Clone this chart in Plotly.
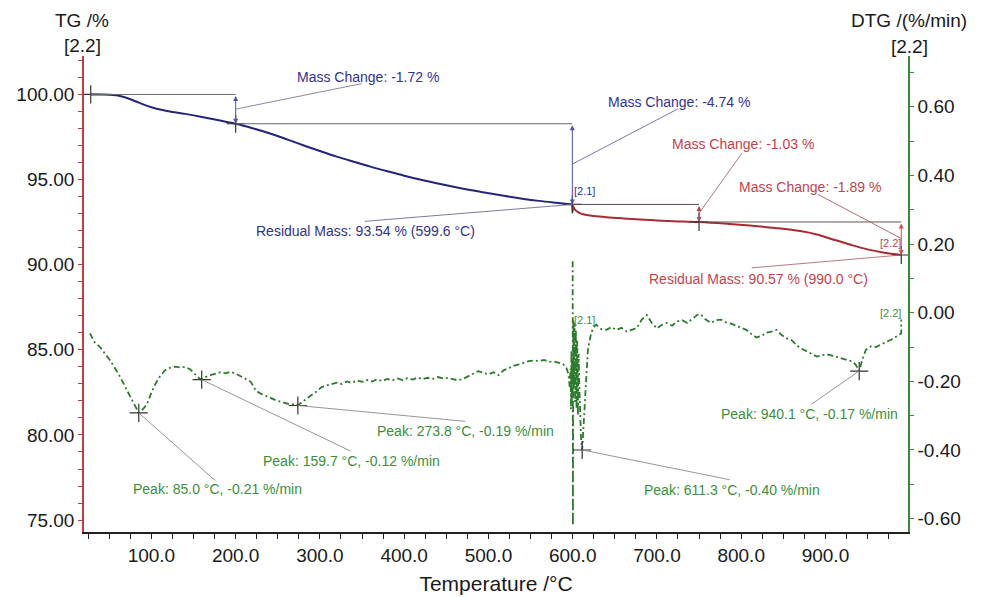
import plotly.graph_objects as go

# ---------------- data ----------------
# TG, segment 2.1 (heating up to 600 °C)
tg1_T = [28, 40, 55, 65, 75, 85, 95, 105, 120, 140, 160, 180, 200, 220, 240, 260, 280,
         300, 320, 340, 360, 380, 400, 420, 440, 460, 480, 500, 520, 540, 560, 580, 599.6]
tg1_val = [100.00, 100.00, 99.97, 99.88, 99.72, 99.52, 99.33, 99.18, 99.02, 98.86, 98.68,
           98.48, 98.28, 98.02, 97.72, 97.38, 97.02, 96.68, 96.35, 96.05, 95.76, 95.49,
           95.23, 94.99, 94.77, 94.56, 94.37, 94.20, 94.03, 93.88, 93.75, 93.64, 93.54]

# TG, segment 2.2 (600 -> 990 °C)
tg2_T = [599.6, 600.0, 600.4, 601.5, 603, 606, 610, 615, 625, 640, 660, 680, 700, 720, 750,
         780, 810, 840, 870, 890, 910, 930, 950, 970, 990]
tg2_val = [93.54, 93.10, 93.45, 93.33, 93.22, 93.10, 93.00, 92.93, 92.86, 92.79, 92.72,
           92.66, 92.60, 92.56, 92.51, 92.42, 92.30, 92.16, 91.98, 91.78, 91.47, 91.17,
           90.90, 90.70, 90.57]

# DTG, segment 2.1 (own scaling)
dtg1_T = [27, 33, 39, 45, 51, 57, 63, 69, 75, 80, 85, 90, 95, 100, 105, 110, 116, 122, 128,
          134, 140, 146, 152, 157, 159.7, 164, 170, 176, 182, 188, 194, 200, 206, 212, 218,
          224, 230, 236, 242, 248, 254, 260, 266, 270, 273.8, 278, 284, 290, 296, 302, 308,
          314, 320, 326, 332, 338, 344, 350, 356, 362, 368, 374, 380, 386, 392, 398, 404,
          410, 416, 422, 428, 434, 440, 446, 452, 458, 464, 470, 476, 482, 488, 494, 500,
          506, 512, 518, 524, 530, 536, 542, 548, 554, 560, 566, 572, 578, 584, 588, 592,
          595, 596.5, 597.5, 598, 598.5, 599, 599.4, 599.8, 600.0]
dtg1_val = [0.005, -0.02, -0.032, -0.05, -0.068, -0.09, -0.113, -0.14, -0.168, -0.19, -0.21,
            -0.20, -0.185, -0.155, -0.13, -0.112, -0.095, -0.088, -0.085, -0.087, -0.086,
            -0.092, -0.105, -0.117, -0.12, -0.113, -0.108, -0.104, -0.10, -0.103, -0.099,
            -0.104, -0.11, -0.118, -0.126, -0.15, -0.158, -0.165, -0.17, -0.176, -0.18,
            -0.184, -0.188, -0.186, -0.19, -0.182, -0.172, -0.163, -0.152, -0.14, -0.136,
            -0.133, -0.128, -0.132, -0.125, -0.129, -0.122, -0.126, -0.121, -0.125, -0.119,
            -0.124, -0.118, -0.122, -0.117, -0.121, -0.116, -0.12, -0.114, -0.119, -0.115,
            -0.118, -0.113, -0.117, -0.115, -0.119, -0.122, -0.118, -0.11, -0.104, -0.097,
            -0.102, -0.106, -0.10, -0.108, -0.095, -0.088, -0.083, -0.079, -0.074, -0.07,
            -0.068, -0.07, -0.067, -0.072, -0.071, -0.074, -0.077, -0.085, -0.105, -0.14,
            -0.09, -0.20, -0.04, -0.18, -0.06, -0.16, -0.10]

# DTG, segment 2.2 (right axis)
dtg2_T = [600.0, 600.3, 600.8, 601.5, 602.2, 603, 603.8, 604.6, 605.4, 606.2, 607, 608, 609,
          610, 611.3, 612.5, 614, 616, 618, 621, 624, 628, 634, 640, 646, 652, 658, 664,
          670, 676, 682, 688, 694, 700, 706, 712, 718, 724, 730, 736, 742, 748, 752, 758,
          764, 770, 776, 782, 788, 794, 800, 806, 812, 818, 824, 830, 836, 842, 848, 854,
          860, 866, 872, 878, 884, 890, 896, 902, 908, 914, 920, 926, 932, 936, 940.1, 944,
          948, 954, 960, 966, 972, 978, 984, 988, 990, 990]
dtg2_val = [0.15, -0.62, -0.02, -0.22, -0.03, -0.26, -0.05, -0.28, -0.08, -0.30, -0.12,
            -0.22, -0.31, -0.37, -0.40, -0.35, -0.26, -0.17, -0.11, -0.07, -0.045, -0.035,
            -0.048, -0.05, -0.042, -0.05, -0.044, -0.055, -0.05, -0.045, -0.02, -0.007,
            -0.03, -0.046, -0.035, -0.03, -0.038, -0.025, -0.022, -0.03, -0.018, -0.006,
            -0.005, -0.02, -0.03, -0.022, -0.02, -0.028, -0.032, -0.038, -0.045, -0.05,
            -0.062, -0.072, -0.068, -0.058, -0.055, -0.05, -0.065, -0.075, -0.08, -0.095,
            -0.105, -0.112, -0.12, -0.128, -0.124, -0.121, -0.125, -0.13, -0.133, -0.138,
            -0.142, -0.152, -0.17, -0.135, -0.108, -0.098, -0.10, -0.092, -0.085, -0.079,
            -0.07, -0.062, -0.06, -0.02]

# mass-change evaluation
step_T = [28.0, 200.0, 599.6, 750.0, 990.0]
step_TG = [100.00, 98.28, 93.54, 92.51, 90.57]
mass_change = [-1.72, -4.74, -1.03, -1.89]
residual_T = [599.6, 990.0]
residual_TG = [93.54, 90.57]

# DTG peaks
peak_T = [85.0, 159.7, 273.8, 611.3, 940.1]
peak_DTG = [-0.21, -0.12, -0.19, -0.40, -0.17]
peak_axis = ["y3", "y3", "y3", "y2", "y2"]

# ticks
x_ticks = [100, 200, 300, 400, 500, 600, 700, 800, 900]
tg_ticks = [75, 80, 85, 90, 95, 100]
dtg_ticks = [-0.6, -0.4, -0.2, 0.0, 0.2, 0.4, 0.6]
dtg_ticktext = ["-0.60", "-0.40", "-0.20", "0.00", "0.20", "0.40", "0.60"]

# ---------------- styling ----------------
FONT = "Arial, Liberation Sans, sans-serif"
BLUE = "#24247c"
BLUE_TXT = "#32328f"
RED = "#a82a32"
RED_TXT = "#c2434c"
GREEN = "#2c7a2c"
GREEN_TXT = "#3b8f3b"
AX_RED = "#c43c3c"
AX_GREEN = "#3a8a3a"
INK = "#1a1a1a"
DASHDOT = "6px,3px,2px,3px"

fig = go.Figure()

fig.add_trace(go.Scatter(x=tg1_T, y=tg1_val, mode="lines", yaxis="y",
                         line=dict(color=BLUE, width=2, shape="spline"), hoverinfo="skip"))
fig.add_trace(go.Scatter(x=tg2_T, y=tg2_val, mode="lines", yaxis="y",
                         line=dict(color=RED, width=2, shape="spline"), hoverinfo="skip"))
fig.add_trace(go.Scatter(x=dtg1_T, y=dtg1_val, mode="lines", yaxis="y3",
                         line=dict(color=GREEN, width=1.8, dash=DASHDOT), hoverinfo="skip"))
fig.add_trace(go.Scatter(x=dtg2_T, y=dtg2_val, mode="lines", yaxis="y2",
                         line=dict(color=GREEN, width=1.8, dash=DASHDOT), hoverinfo="skip"))

# step markers on TG
fig.add_trace(go.Scatter(x=step_T, y=step_TG, mode="markers", yaxis="y",
                         marker=dict(symbol="cross-thin", size=13,
                                     line=dict(color="#333333", width=1.2)),
                         hoverinfo="skip"))
# peak markers on DTG
for ax_name in ("y3", "y2"):
    px = [t for t, a in zip(peak_T, peak_axis) if a == ax_name]
    py = [v for v, a in zip(peak_DTG, peak_axis) if a == ax_name]
    fig.add_trace(go.Scatter(x=px, y=py, mode="markers", yaxis=ax_name,
                             marker=dict(symbol="cross-thin", size=13,
                                         line=dict(color="#333333", width=1.2)),
                             hoverinfo="skip"))

annotations = []
shapes = []


def label(x, y, yref, text, color, text_off, lead_off, lead_color, size=14):
    # leader line from the text to the evaluated point
    annotations.append(dict(x=x, y=y, xref="x", yref=yref, text="", showarrow=True,
                            arrowhead=0, arrowwidth=0.9, arrowcolor=lead_color,
                            ax=lead_off[0], ay=lead_off[1]))
    annotations.append(dict(x=x, y=y, xref="x", yref=yref, text=text, showarrow=False,
                            xshift=text_off[0], yshift=-text_off[1],
                            xanchor="center", yanchor="middle",
                            font=dict(family=FONT, size=size, color=color)))


# mass change brackets
mc_text_off = [(132.5, -32.4), (107, -62.4), (44, -69), (-91, -52)]
mc_lead_off = [(127.5, -25.8), (107, -56), (44, -61.5), (-85, -45)]
mc_colors = [BLUE_TXT, BLUE_TXT, RED_TXT, RED_TXT]
arrow_colors = ["#5050a8", "#5050a8", "#b04a52", "#d0505a"]
lead_colors = ["#7a7a9a", "#6a6a9a", "#a06a70", "#b05a62"]
bracket_colors = ["#6a6a6a", "#6a6a6a", "#5a4a4a", "#6a5050"]
for i, mc in enumerate(mass_change):
    t0, t1 = step_T[i], step_T[i + 1]
    g0, g1 = step_TG[i], step_TG[i + 1]
    shapes.append(dict(type="line", xref="x", yref="y", x0=t0, x1=t1, y0=g0, y1=g0,
                       line=dict(color=bracket_colors[i], width=1)))
    annotations.append(dict(x=t1, y=g1, xref="x", yref="y", ax=t1, ay=g0,
                            axref="x", ayref="y", text="", showarrow=True,
                            arrowhead=2, arrowside="end+start", arrowsize=1,
                            arrowwidth=1, arrowcolor=arrow_colors[i]))
    label(t1, (g0 + g1) / 2, "y", f"Mass Change: {mc:.2f} %", mc_colors[i],
          mc_text_off[i], mc_lead_off[i], lead_colors[i])

# residual masses
res_text_off = [(-207, 27), (-143, 24)]
res_lead_off = [(-209, 17), (-151, 13)]
res_colors = [BLUE_TXT, RED_TXT]
res_leads = ["#6a6a9a", "#b06a72"]
for i in range(2):
    label(residual_T[i], residual_TG[i], "y",
          f"Residual Mass: {residual_TG[i]:.2f} % ({residual_T[i]:.1f} °C)",
          res_colors[i], res_text_off[i], res_lead_off[i], res_leads[i])

# DTG peaks
peak_text_off = [(78.6, 76.3), (150, 81.3), (168, 25.4), (149.4, 40), (-50, 43.3)]
peak_lead_off = [(78, 69), (150, 72), (169, 16), (149, 30), (-49, 34)]
for i in range(len(peak_T)):
    label(peak_T[i], peak_DTG[i], peak_axis[i],
          f"Peak: {peak_T[i]:.1f} °C, {peak_DTG[i]:.2f} %/min",
          GREEN_TXT, peak_text_off[i], peak_lead_off[i], "#8a8a8a")

# segment tags
tags = [
    (residual_T[0], residual_TG[0], "y", "[2.1]", BLUE_TXT, 12, 13),
    (residual_T[1], residual_TG[1], "y", "[2.2]", RED_TXT, -11, 12),
    (dtg2_T[-1], dtg2_val[-1], "y2", "[2.2]", GREEN_TXT, -11, 7),
    (dtg2_T[0], dtg2_val[-1], "y2", "[2.1]", GREEN_TXT, 12, 0),
]
for x, y, yr, txt, col, dx, dy in tags:
    annotations.append(dict(x=x, y=y, xref="x", yref=yr, text=txt, showarrow=False,
                            xshift=dx, yshift=dy, xanchor="center", yanchor="middle",
                            font=dict(family=FONT, size=11, color=col)))

# axis headers
for txt, xp, ys in [("TG /%", 0, 35.3), ("[2.2]", 0, 11), ("DTG /(%/min)", 1, 36),
                    ("[2.2]", 1, 9.5)]:
    annotations.append(dict(x=xp, y=1, xref="paper", yref="paper", text=txt,
                            showarrow=False, xanchor="center", yanchor="middle",
                            xshift=-2 if xp == 0 else 1, yshift=ys,
                            font=dict(family=FONT, size=19, color=INK)))

fig.update_layout(
    width=981, height=597,
    margin=dict(l=84, r=73, t=56, b=65, autoexpand=False),
    paper_bgcolor="white", plot_bgcolor="white",
    showlegend=False,
    font=dict(family=FONT, color=INK),
    shapes=shapes,
    annotations=annotations,
    xaxis=dict(range=[20, 998], tickmode="array", tickvals=x_ticks,
               ticktext=[f"{v:.1f}" for v in x_ticks],
               showline=True, linecolor="#222222", linewidth=1.5,
               ticks="outside", ticklen=5, tickcolor="#222222", tickwidth=1.2,
               minor=dict(dtick=25, tick0=0, ticks="outside", ticklen=5,
                          tickcolor="#222222", tickwidth=1.2),
               showgrid=False, zeroline=False, automargin=False,
               tickfont=dict(size=19, color=INK),
               title=dict(text="Temperature /°C", font=dict(size=21, color=INK),
                          standoff=12)),
    yaxis=dict(range=[74.3, 102.26], tickmode="array", tickvals=tg_ticks,
               ticktext=[f"{v:.2f}" for v in tg_ticks],
               showline=True, linecolor=AX_RED, linewidth=1.5,
               ticks="outside", ticklen=4, tickcolor=AX_RED, tickwidth=1.2,
               minor=dict(dtick=1, tick0=0, ticks="outside", ticklen=4,
                          tickcolor=AX_RED, tickwidth=1.2),
               showgrid=False, zeroline=False, automargin=False,
               tickfont=dict(size=19, color=INK)),
    yaxis2=dict(range=[-0.639, 0.748], overlaying="y", side="right",
                tickmode="array", tickvals=dtg_ticks, ticktext=dtg_ticktext,
                showline=True, linecolor=AX_GREEN, linewidth=1.5,
                ticks="outside", ticklen=4, tickcolor=AX_GREEN, tickwidth=1.2,
                minor=dict(dtick=0.1, tick0=0, ticks="outside", ticklen=4,
                           tickcolor=AX_GREEN, tickwidth=1.2),
                showgrid=False, zeroline=False, automargin=False,
                tickfont=dict(size=19, color=INK)),
    yaxis3=dict(range=[-0.532, 0.755], overlaying="y", visible=False,
                showgrid=False, zeroline=False),
)

fig.write_html("out.html")
